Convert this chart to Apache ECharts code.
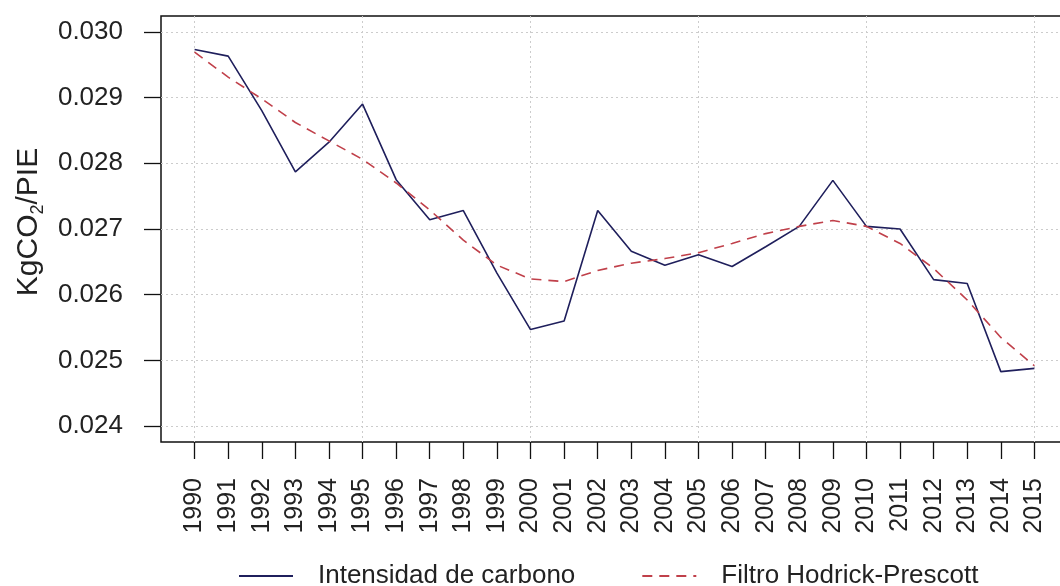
<!DOCTYPE html>
<html>
<head>
<meta charset="utf-8">
<script src="https://cdn.jsdelivr.net/npm/echarts@6/dist/echarts.min.js"></script>
<style>
html,body{margin:0;padding:0;background:#fff;}
#chart{width:1060px;height:586px;}
</style>
</head>
<body>
<div id="chart"></div>
<script>
// Data
const years = [1990,1991,1992,1993,1994,1995,1996,1997,1998,1999,2000,2001,2002,2003,2004,2005,2006,2007,2008,2009,2010,2011,2012,2013,2014,2015];
const intensidad = [0.02973,0.02963,0.02880,0.02787,0.02832,0.02890,0.02775,0.02714,0.02728,0.02633,0.02547,0.02560,0.02728,0.02666,0.02645,0.02661,0.02643,0.02673,0.02704,0.02774,0.02704,0.02700,0.02623,0.02617,0.02483,0.02488];
const hodrick = [0.02969,0.02931,0.02898,0.02862,0.02834,0.02806,0.02770,0.02729,0.02683,0.02645,0.02624,0.02620,0.02637,0.02648,0.02655,0.02664,0.02678,0.02693,0.02704,0.02713,0.02704,0.02678,0.02640,0.02592,0.02535,0.02492];
const yTicks = [0.024,0.025,0.026,0.027,0.028,0.029,0.030];
const seriesNames = ['Intensidad de carbono','Filtro Hodrick-Prescott'];

// axis categories padded by one year on each side (R-style axis expansion)
const cats = [String(years[0]-1)].concat(years.map(String), [String(years[years.length-1]+1)]);
const isYear = (v) => years.indexOf(+v) >= 0;
const FONT = '"Liberation Sans", Arial, sans-serif';

const chart = echarts.init(document.getElementById('chart'), null, {renderer:'canvas'});
chart.setOption({
  animation: false,
  backgroundColor: '#fff',
  textStyle: {fontFamily: FONT},
  grid: {left:161, right:-8, top:16, bottom:144, show:true, borderColor:'#111', borderWidth:1.5,
    backgroundColor:'transparent', outerBoundsMode:'none', containLabel:false},
  xAxis: {
    type:'category', data: cats, boundaryGap:false,
    axisLine:{show:false},
    axisTick:{show:true, length:17, inside:false, lineStyle:{color:'#111', width:1.3},
      interval:(i,v)=>isYear(v)},
    axisLabel:{rotate:90, fontSize:25, color:'#222', margin:36, fontFamily:FONT,
      interval:(i,v)=>isYear(v)},
    splitLine:{show:true, lineStyle:{color:'#cccccc', type:[2,3], width:1},
      interval:(i,v)=>isYear(v) && (+v)%5===0}
  },
  yAxis: {
    type:'value', min:0.02376, max:0.03024, scale:true,
    axisLine:{show:false},
    axisTick:{show:true, length:17, inside:false, lineStyle:{color:'#111', width:1.3}, customValues: yTicks},
    axisLabel:{fontSize:26, color:'#222', margin:38, fontFamily:FONT, customValues: yTicks,
      formatter:(v)=>v.toFixed(3)},
    splitLine:{show:true, lineStyle:{color:'#cccccc', type:[2,3], width:1}},
    name:'{n|KgCO}{s|2}{n|/PIE}',
    nameLocation:'middle', nameRotate:90, nameGap:108,
    nameTextStyle:{
      padding:[0,0,0,14],
      rich:{
        n:{fontSize:30, color:'#222', fontFamily:FONT, lineHeight:36, verticalAlign:'middle'},
        s:{fontSize:18, color:'#222', fontFamily:FONT, lineHeight:18, verticalAlign:'bottom'}
      }
    }
  },
  legend: {
    show:true, left:233, top:558, orient:'horizontal',
    itemWidth:54, itemHeight:14, itemGap:66,
    itemStyle:{opacity:0},
    textStyle:{fontSize:26, color:'#222', fontFamily:FONT, padding:[0,0,0,20]},
    data: seriesNames
  },
  series: [
    {
      name: seriesNames[0], type:'line', symbol:'none', showSymbol:false,
      lineStyle:{color:'#1f1f5c', width:1.6},
      itemStyle:{color:'#1f1f5c'},
      data: years.map((y,i)=>[String(y), intensidad[i]]),
      z:2
    },
    {
      name: seriesNames[1], type:'line', symbol:'none', showSymbol:false,
      lineStyle:{color:'#c0404a', width:1.6, type:[10,7]},
      itemStyle:{color:'#c0404a'},
      data: years.map((y,i)=>[String(y), hodrick[i]]),
      z:3
    }
  ]
});
</script>
</body>
</html>
